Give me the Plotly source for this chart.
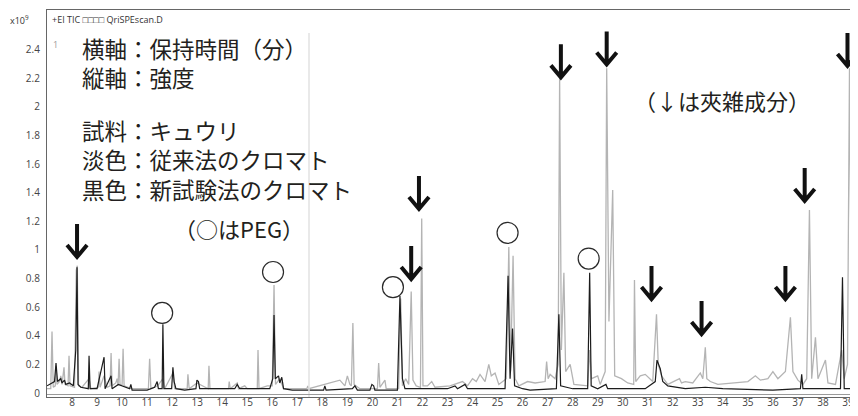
import plotly.graph_objects as go

# ---- data (retention time in min, intensity in x10^9) ----
conv_t = [7.00, 7.15, 7.20, 7.25, 7.33, 7.36, 7.40, 7.50, 7.55, 7.60, 7.68, 7.72, 7.84, 7.88, 7.92,
          8.10, 8.17, 8.21, 8.26, 8.40, 8.68, 8.75, 9.05, 9.08, 9.12, 9.28, 9.40, 9.52, 9.56, 9.60,
          9.75, 9.80, 9.84, 9.88, 9.92, 10.00, 10.04, 10.08, 10.36, 11.05, 11.10, 11.15, 11.42, 11.63,
          11.70, 12.03, 12.10, 12.60, 12.63, 12.68, 12.99, 13.44, 13.47, 13.51, 14.25, 14.28, 14.32,
          14.60, 14.65, 14.90, 15.00, 15.40, 15.43, 15.47, 15.80, 16.00, 16.07, 16.13, 16.30, 16.45,
          17.38, 17.42, 17.46, 18.70, 18.90, 19.00, 19.10, 19.16, 19.22, 19.27, 19.50, 20.20, 20.25,
          20.30, 20.50, 20.55, 21.05, 21.13, 21.20, 21.33, 21.45, 21.55, 21.62, 21.75, 21.92, 21.97,
          22.02, 22.20, 22.37, 22.50, 23.10, 23.60, 23.80, 24.00, 24.15, 24.30, 24.50, 24.65, 24.75,
          24.90, 25.05, 25.35, 25.45, 25.52, 25.62, 25.70, 25.85, 26.20, 26.50, 26.90, 26.96, 27.02,
          27.10, 27.30, 27.42, 27.48, 27.55, 27.65, 27.72, 27.90, 28.05, 28.60, 28.68, 28.75, 29.00,
          29.10, 29.30, 29.36, 29.45, 29.60, 29.68, 29.95, 30.20, 30.44, 30.47, 30.52, 30.70, 30.90,
          31.20, 31.35, 31.42, 31.55, 31.80, 32.27, 32.35, 32.50, 32.80, 33.10, 33.20, 33.30, 33.36,
          33.50, 33.80, 34.50, 35.00, 35.30, 35.50, 35.80, 36.00, 36.20, 36.50, 36.70, 36.80, 37.00,
          37.20, 37.35, 37.46, 37.55, 37.70, 37.80, 38.10, 38.20, 38.50, 38.75, 38.85, 38.98, 39.06,
          39.15, 39.40]
conv_v = [0.03, 0.03, 0.43, 0.04, 0.05, 0.19, 0.06, 0.08, 0.12, 0.06, 0.18, 0.06, 0.05, 0.26, 0.05,
          0.04, 0.86, 0.89, 0.05, 0.04, 0.10, 0.03, 0.04, 0.15, 0.04, 0.12, 0.04, 0.05, 0.28, 0.05,
          0.07, 0.10, 0.05, 0.24, 0.05, 0.06, 0.31, 0.05, 0.03, 0.03, 0.24, 0.03, 0.05, 0.10,
          0.03, 0.14, 0.03, 0.03, 0.13, 0.03, 0.07, 0.03, 0.19, 0.03, 0.03, 0.08, 0.03,
          0.07, 0.03, 0.05, 0.03, 0.03, 0.30, 0.03, 0.05, 0.05, 0.755, 0.06, 0.10, 0.03,
          0.03, 0.05, 0.03, 0.09, 0.05, 0.12, 0.06, 0.05, 0.49, 0.06, 0.03, 0.03, 0.21,
          0.04, 0.09, 0.03, 0.03, 0.66, 0.05, 0.10, 0.06, 0.71, 0.09, 0.05, 0.04, 1.22,
          0.05, 0.05, 0.08, 0.04, 0.05, 0.08, 0.05, 0.10, 0.08, 0.13, 0.08, 0.20, 0.12,
          0.14, 0.06, 0.10, 1.02, 0.15, 0.96, 0.10, 0.05, 0.08, 0.07, 0.08, 0.22, 0.10,
          0.13, 0.10, 0.20, 2.20, 0.30, 0.84, 0.15, 0.20, 0.06, 0.05, 0.30, 0.10, 0.12,
          0.06, 0.15, 2.27, 0.50, 1.42, 0.12, 0.10, 0.07, 0.06, 0.79, 0.08, 0.12, 0.13,
          0.08, 0.55, 0.20, 0.12, 0.06, 0.10, 0.07, 0.08, 0.07, 0.14, 0.10, 0.32, 0.10,
          0.08, 0.06, 0.07, 0.08, 0.12, 0.09, 0.10, 0.15, 0.10, 0.15, 0.53, 0.15, 0.09,
          0.06, 0.10, 1.28, 0.10, 0.39, 0.10, 0.23, 0.07, 0.06, 0.30, 0.10, 0.20, 2.27,
          0.20, 0.10]

new_t = [7.00, 7.10, 7.30, 7.36, 7.42, 7.55, 7.60, 7.70, 7.75, 7.90, 8.05, 8.15, 8.20, 8.24, 8.35,
         8.65, 8.68, 8.72, 9.00, 9.28, 9.32, 9.56, 9.60, 9.85, 10.30, 10.35, 10.40, 11.00, 11.30,
         11.40, 11.45, 11.60, 11.63, 11.67, 11.98, 12.03, 12.08, 12.15, 12.50, 12.95, 12.99, 13.05,
         13.10, 14.50, 14.60, 14.70, 15.90, 16.02, 16.07, 16.12, 16.25, 16.30, 16.38, 16.45, 16.80,
         18.05, 18.10, 18.15, 19.20, 19.30, 19.40, 19.90, 19.98, 20.05, 20.10, 21.00, 21.10, 21.20,
         21.30, 22.40, 23.00, 23.30, 23.40, 23.70, 23.80, 25.30, 25.42, 25.50, 25.60, 25.68, 26.00,
         26.30, 27.35, 27.45, 27.52, 28.00, 28.60, 28.68, 28.74, 29.00, 29.33, 29.40, 30.20, 30.90,
         31.30, 31.37, 31.50, 31.60, 31.80, 32.50, 33.30, 34.00, 36.00, 37.10, 37.15, 37.20, 38.70,
         38.78, 38.85, 39.40]
new_v = [0.05, 0.06, 0.08, 0.21, 0.08, 0.10, 0.07, 0.09, 0.06, 0.07, 0.05, 0.30, 0.88, 0.06, 0.04,
         0.03, 0.26, 0.03, 0.03, 0.25, 0.03, 0.12, 0.03, 0.06, 0.03, 0.06, 0.02, 0.02, 0.04,
         0.08, 0.03, 0.03, 0.48, 0.03, 0.03, 0.18, 0.08, 0.03, 0.02, 0.03, 0.09, 0.08,
         0.03, 0.03, 0.06, 0.03, 0.03, 0.10, 0.545, 0.10, 0.12, 0.07, 0.11, 0.03, 0.02,
         0.02, 0.05, 0.02, 0.03, 0.05, 0.02, 0.02, 0.06, 0.05, 0.02, 0.02, 0.68, 0.10,
         0.03, 0.03, 0.03, 0.05, 0.03, 0.06, 0.03, 0.03, 0.82, 0.10, 0.45, 0.05, 0.03,
         0.02, 0.03, 0.55, 0.05, 0.03, 0.03, 0.84, 0.05, 0.03, 0.06, 0.03, 0.03, 0.03,
         0.08, 0.23, 0.17, 0.08, 0.05, 0.03, 0.04, 0.03, 0.02, 0.03, 0.13, 0.03, 0.03,
         0.81, 0.03, 0.03]

# PEG peak markers (circles) and impurity arrows (tips)
peg_t = [11.6, 16.03, 20.82, 25.40, 28.64]
peg_v = [0.56, 0.846, 0.74, 1.12, 0.94]
arrow_t = [8.20, 27.53, 29.36, 21.86, 21.55, 31.15, 33.15, 36.50, 37.27, 38.98]
arrow_v = [0.944, 2.20, 2.29, 1.28, 0.79, 0.65, 0.405, 0.65, 1.336, 2.28]

y_ticks = [0, 0.2, 0.4, 0.6, 0.8, 1, 1.2, 1.4, 1.6, 1.8, 2, 2.2, 2.4]
x_ticks = list(range(8, 40))

# ---- layout geometry (window pixels; page body has an 8px margin) ----
OFF = 8
WIN_W, WIN_H = 858, 416
L_PX, R_PX, T_PX, B_PX = 47, 858, 10, 397   # plot area in window pixels
W, H = WIN_W - OFF, WIN_H - OFF
ML, MR, MT, MB = L_PX - OFF, WIN_W - R_PX, T_PX - OFF, WIN_H - B_PX
PW, PH = R_PX - L_PX, B_PX - T_PX


def px(x):
    return (x - L_PX) / PW


def py(y):
    return (B_PX - y) / PH


fig = go.Figure()
fig.add_trace(go.Scatter(x=conv_t, y=conv_v, mode="lines",
                         line=dict(color="#b4b4b4", width=1.3), hoverinfo="skip"))
fig.add_trace(go.Scatter(x=new_t, y=new_v, mode="lines",
                         line=dict(color="#1c1c1c", width=1.2), hoverinfo="skip"))
fig.add_trace(go.Scatter(x=peg_t, y=peg_v, mode="markers",
                         marker=dict(symbol="circle-open", size=21, color="#2a2a2a",
                                     line=dict(color="#2a2a2a", width=1.2)),
                         hoverinfo="skip"))

shapes = []
for t, v in zip(arrow_t, arrow_v):
    shapes.append(dict(type="path", xref="x", yref="y",
                       xsizemode="pixel", ysizemode="pixel",
                       xanchor=t, yanchor=v,
                       path="M0,1 L0,34 M-10,13 L0,1 L10,13",
                       line=dict(color="#111111", width=4)))
# faint vertical line
shapes.append(dict(type="line", xref="paper", yref="paper",
                   x0=px(309), x1=px(309), y0=0, y1=py(33),
                   line=dict(color="#e2e2e2", width=1.5)))
# second bottom axis line
shapes.append(dict(type="line", xref="paper", yref="paper",
                   x0=0, x1=1, y0=py(394.5), y1=py(394.5),
                   line=dict(color="#9a9a9a", width=1)))

FONT = "Noto Sans CJK JP"
big = 22.5
annots = []


def txt(s, x, y, size, color="#231f20", xanchor="left", family=FONT):
    annots.append(dict(text=s, xref="paper", yref="paper", x=px(x), y=py(y),
                       xanchor=xanchor, yanchor="middle", align="left", showarrow=False,
                       font=dict(family=family, size=size, color=color)))


txt("横軸：保持時間（分）<br>縦軸：強度", 80, 63, big)
txt("試料：キュウリ<br>淡色：従来法のクロマト<br>黒色：新試験法のクロマト", 80, 159, big)
txt("（○はPEG）", 172, 228, 22)
txt("（↓は夾雑成分）", 632, 100, 22)
txt("+EI TIC □□□□ QriSPEscan.D", 50, 19, 9, color="#333333", family="Open Sans")
txt("1", 51, 45, 9, color="#999999", family="Open Sans")
txt("x10<sup>9</sup>", 8, 20, 9, color="#333333", family="Open Sans")

fig.update_layout(
    width=W, height=H,
    margin=dict(l=ML, r=MR, t=MT, b=MB, autoexpand=False),
    paper_bgcolor="white", plot_bgcolor="white",
    showlegend=False,
    shapes=shapes, annotations=annots,
    xaxis=dict(range=[7.0, 39.4], tickmode="array", tickvals=x_ticks,
               ticktext=[str(v) for v in x_ticks], automargin=False,
               showgrid=False, zeroline=False,
               showline=True, mirror=True, linecolor="#666666", linewidth=1.3,
               ticks="", ticklabelstandoff=-4,
               tickfont=dict(family="Open Sans", size=10, color="#444444")),
    yaxis=dict(range=[-0.028, 2.678], tickmode="array", tickvals=y_ticks,
               ticktext=[("%g" % v) for v in y_ticks], automargin=False,
               showgrid=False, zeroline=False,
               showline=True, linecolor="#666666", linewidth=1.3,
               ticks="", ticklabelstandoff=4,
               tickfont=dict(family="Open Sans", size=10, color="#444444")),
)

fig.write_html("out.html")
